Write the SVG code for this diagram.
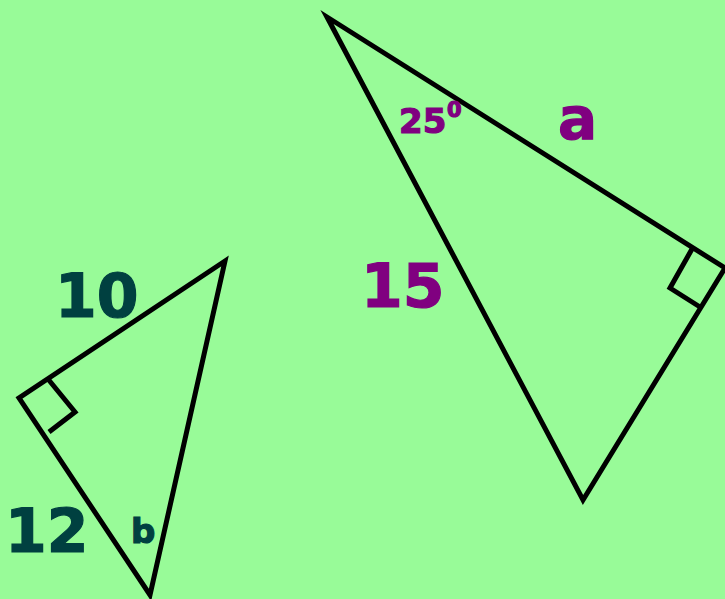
<svg xmlns="http://www.w3.org/2000/svg" width="725" height="599" viewBox="0 0 725 599">
<style>
.ln{fill:none;stroke:#000;stroke-width:5;stroke-linejoin:miter;stroke-linecap:butt}
.t{font-family:"DejaVu Sans",Verdana,sans-serif;font-weight:bold;stroke-width:1.2}
.d{fill:#004040;stroke:#004040}
.p{fill:#800080;stroke:#800080}
</style>
<rect width="725" height="599" fill="#98FB98"/>
<g id="big-triangle">
<polygon class="ln" points="327,17 725,268 583,500"/>
<polyline class="ln" points="692,249 670,288 700,307"/>
</g>
<g id="small-triangle">
<polygon class="ln" points="225,261 19,398 150,595"/>
<polyline class="ln" points="48,379 75,412 49,432"/>
</g>
<g id="labels">
<text class="t p" x="399" y="133" font-size="34">25</text>
<text class="t p" x="447" y="117" font-size="21">0</text>
<text class="t p" x="558" y="139" font-size="58">a</text>
<text class="t p" x="361" y="307" font-size="60">15</text>
<text class="t d" x="55" y="317" font-size="60">10</text>
<text class="t d" x="5" y="552" font-size="60">12</text>
<text class="t d" x="131" y="543" font-size="34">b</text>
</g>
</svg>
